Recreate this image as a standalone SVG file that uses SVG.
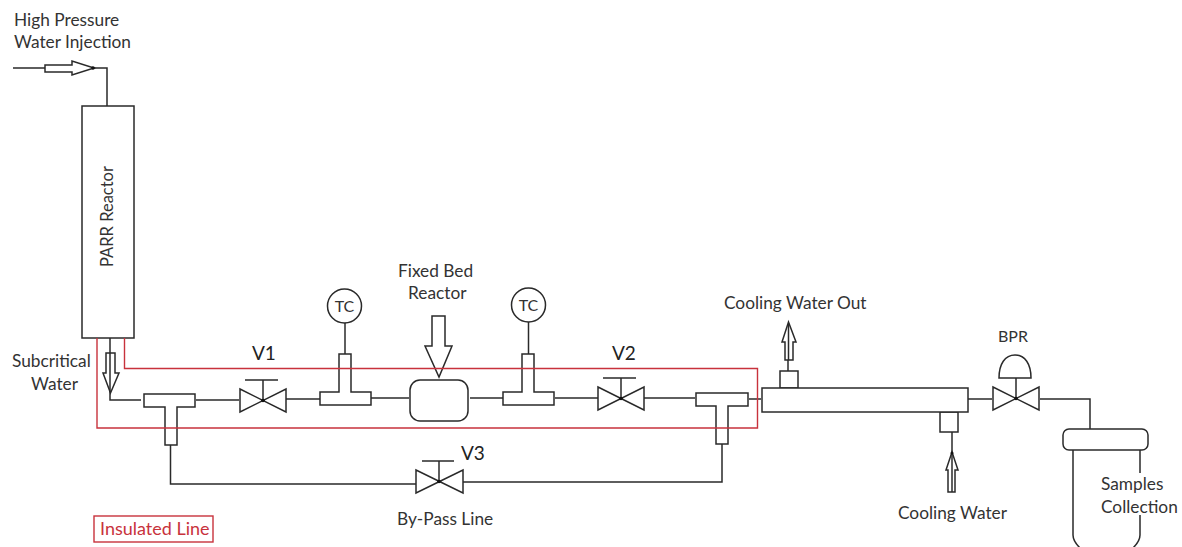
<svg xmlns="http://www.w3.org/2000/svg" width="1182" height="547" viewBox="0 0 1182 547">
<style>
.s{fill:none;stroke:#2a2a2a;stroke-width:1.5}
.f{fill:#fff;stroke:#2a2a2a;stroke-width:1.5}
.r{fill:none;stroke:#c8323c;stroke-width:1.4}
.d{fill:#111}
text{font-family:Lato,"Liberation Sans",sans-serif;font-size:17.3px;fill:#333}
.v{font-size:19px;fill:#222}
.t{font-size:16px}
</style>
<rect width="1182" height="547" fill="#fff"/>
<g id="connectors">
<path class="s" d="M13 68H107V106"/>
<path class="s" d="M110 338V400H141"/>
<path class="s" d="M196 400H239"/>
<path class="s" d="M286 399H320"/>
<path class="s" d="M371 398H409"/>
<path class="s" d="M470 398H503"/>
<path class="s" d="M555 398H598"/>
<path class="s" d="M644 398H695"/>
<path class="s" d="M749 399H761"/>
<path class="s" d="M345 323V354"/>
<path class="s" d="M528.500 322V354"/>
<path class="s" d="M170.500 445V484H416"/>
<path class="s" d="M722 444V482H463"/>
<path class="s" d="M788 371V355"/>
<path class="s" d="M952 432V456"/>
<path class="s" d="M968 399H992"/>
<path class="s" d="M1040 399H1090V429"/>
</g>
<g id="arrow-injection"><path class="f" d="M45 65H72V61L94 68L72 75V72H45Z"/><circle class="d" cx="93" cy="68" r="1.800"/></g>
<g id="arrow-subcritical"><path class="f" d="M106 353H115V373H119L110.500 393L103 373H106Z"/><path class="s" d="M110 353V392"/></g>
<g id="arrow-fixed-bed"><path class="f" d="M432 316H445V346H452L439 377L425 346H432Z"/></g>
<g id="arrow-cooling-out"><path class="f" d="M785 360V342H782L788.500 322L796 342H793V360Z"/><path class="s" d="M788.500 324V360"/></g>
<g id="arrow-cooling-in"><path class="f" d="M948 492V470H946L952 452L958 470H955V492Z"/><path class="s" d="M952 452V492"/><circle class="d" cx="952" cy="453" r="1.500"/></g>
<g id="parr-reactor">
<rect class="f" x="82" y="106" width="52" height="232"/>
<text transform="translate(113 267) rotate(-90)" style="font-size:16.500px">PARR Reactor</text>
</g>
<g id="tee-1"><path class="f" d="M144 394H195V407H177V445H165V407H144Z"/></g>
<g id="tee-2"><path class="f" d="M320 392H339V354H351V392H371V405H320Z"/></g>
<g id="tee-3"><path class="f" d="M503 392H522V354H534V392H554V405H503Z"/></g>
<g id="tee-4"><path class="f" d="M696 393H748V406H728V444H716V406H696Z"/></g>
<g id="valve-v1"><path class="s" d="M240 389L286 412V389L240 412Z"/><path class="s" d="M263 400V380M245 380H278"/><circle class="d" cx="263" cy="400.500" r="1.800"/></g>
<g id="valve-v2"><path class="s" d="M598 387L644 410V387L598 410Z"/><path class="s" d="M621 398V378M603 378H636"/><circle class="d" cx="621" cy="398.500" r="1.800"/></g>
<g id="valve-v3"><path class="s" d="M416 470L463 493V470L416 493Z"/><path class="s" d="M439 482V461M422 461H454"/><circle class="d" cx="439" cy="481.500" r="1.800"/></g>
<g id="valve-bpr"><path class="s" d="M993 387L1039 410V387L993 410Z"/><path class="s" d="M1016 398V378M999 378H1031C1031 364 1025 355 1015 355C1005 355 999 364 999 378Z"/><circle class="d" cx="1016" cy="398.500" r="1.800"/></g>
<g id="tc-1"><circle class="f" cx="344.500" cy="306" r="17"/><text class="t" x="344.500" y="312" text-anchor="middle">TC</text></g>
<g id="tc-2"><circle class="f" cx="528.500" cy="305" r="17"/><text class="t" x="528.500" y="311" text-anchor="middle">TC</text></g>
<g id="fixed-bed-reactor"><rect class="f" x="410" y="380" width="58" height="41" rx="10"/></g>
<g id="heat-exchanger">
<rect class="f" x="780" y="371" width="18" height="17"/>
<rect class="f" x="940" y="412" width="18" height="20"/>
<rect class="f" x="762" y="388" width="206" height="24"/>
</g>
<g id="collection-vessel">
<path class="s" d="M1073 450V535C1073 541 1077 545 1080 548M1140 450V473M1140 515V535C1140 541 1136 545 1133 548"/>
<rect class="f" x="1063" y="429" width="85" height="21" rx="6"/>
</g>
<g id="insulation">
<path class="r" d="M97 338V428H757.500V368.500H124.500V338"/>
</g>
<g id="labels">
<text x="14" y="26">High Pressure</text>
<text x="14" y="48">Water Injection</text>
<text x="12" y="367">Subcritical</text>
<text x="31" y="390">Water</text>
<text class="v" x="252" y="360">V1</text>
<text class="v" x="612" y="360">V2</text>
<text class="v" x="461" y="460">V3</text>
<text x="398" y="277">Fixed Bed</text>
<text x="408" y="299">Reactor</text>
<text x="724" y="309">Cooling Water Out</text>
<text class="t" x="998" y="342">BPR</text>
<text x="898" y="519">Cooling Water</text>
<text x="1101" y="490">Samples</text>
<text x="1101" y="513">Collection</text>
<text x="397" y="525">By-Pass Line</text>
</g>
<g id="legend">
<rect class="r" x="94" y="516" width="119" height="26"/>
<text x="100" y="535" style="fill:#c8323c;font-size:18px">Insulated Line</text>
</g>
</svg>
